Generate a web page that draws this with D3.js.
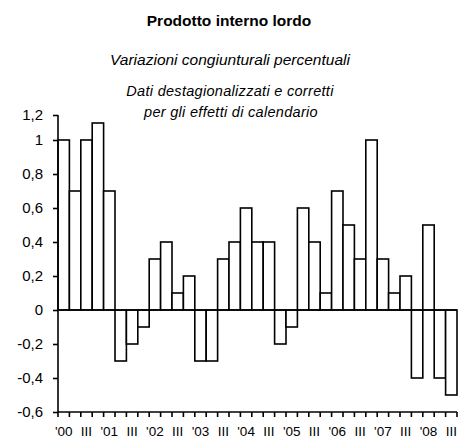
<html>
<script src="https://d3js.org/d3.v7.min.js"></script>
<style>
body {margin:0; background:white;}
text {font-family: "Liberation Sans", Arial, sans-serif; fill:black;}
</style>
<body>
<svg width=459 height=441></svg>
<script>
// quarterly GDP change, 2000 Q1 - 2008 Q3
var quarters = ["'00","II","III","IV","'01","II","III","IV","'02","II","III","IV",
                "'03","II","III","IV","'04","II","III","IV","'05","II","III","IV",
                "'06","II","III","IV","'07","II","III","IV","'08","II","III"];
var values = [1.0,0.7,1.0,1.1, 0.7,-0.3,-0.2,-0.1, 0.3,0.4,0.1,0.2,
              -0.3,-0.3,0.3,0.4, 0.6,0.4,0.4,-0.2, -0.1,0.6,0.4,0.1,
              0.7,0.5,0.3,1.0, 0.3,0.1,0.2,-0.4, 0.5,-0.4,-0.5];
var yTicks = [-0.6,-0.4,-0.2,0,0.2,0.4,0.6,0.8,1];
var yTickLabels = ["-0,6","-0,4","-0,2","0","0,2","0,4","0,6","0,8","1"];
var topLabel = "1,2";

var svg = d3.select("svg");
var left = 58, right = 457, plotTop = 115, zeroY = 310, bottom = 412;
var sw = 1.6;

var x = d3.scaleBand().domain(d3.range(values.length)).range([left, right]).padding(0);
var y = d3.scaleLinear().domain([-0.6, 0]).range([bottom, zeroY]);
var yTop = y.invert(plotTop);

// titles
svg.append("text").attr("x",229).attr("y",26).attr("text-anchor","middle")
   .style("font-size","15.5px").style("font-weight","bold").text("Prodotto interno lordo");
svg.append("text").attr("x",230).attr("y",65).attr("text-anchor","middle")
   .style("font-size","15.5px").style("font-style","italic").text("Variazioni congiunturali percentuali");
svg.append("text").attr("x",230).attr("y",96).attr("text-anchor","middle")
   .style("font-size","14.5px").style("font-style","italic").style("letter-spacing","0.3px")
   .text("Dati destagionalizzati e corretti");
svg.append("text").attr("x",231).attr("y",117).attr("text-anchor","middle")
   .style("font-size","14.5px").style("font-style","italic").style("letter-spacing","0.3px")
   .text("per gli effetti di calendario");

var g = svg.append("g");

// bars
g.selectAll("rect").data(values).enter().append("rect")
  .attr("x", function(d,i){ return x(i); })
  .attr("width", x.bandwidth())
  .attr("y", function(d){ return y(Math.max(0,d)); })
  .attr("height", function(d){ return Math.abs(y(d)-y(0)); })
  .attr("fill","white").attr("stroke","black").attr("stroke-width",sw);

// zero line
g.append("line").attr("x1",left).attr("x2",right).attr("y1",y(0)).attr("y2",y(0))
  .attr("stroke","black").attr("stroke-width",sw);

// y axis
var yAxis = d3.axisLeft(y).tickValues(yTicks.concat([yTop])).tickSize(5).tickPadding(10)
  .tickFormat(function(d,i){ return i < yTickLabels.length ? yTickLabels[i] : topLabel; });
var ya = svg.append("g").attr("transform","translate("+left+",0)").call(yAxis);
ya.select(".domain").attr("d","M0,"+plotTop+"V"+bottom).attr("stroke-width",sw);
ya.selectAll(".tick line").attr("stroke-width",sw);
ya.selectAll("text").style("font-size","15px").style("font-family","Liberation Sans, Arial, sans-serif");

// x axis: ticks at category boundaries
var bounds = d3.range(values.length+1).map(function(i){ return left + i*x.bandwidth(); });
var xa = svg.append("g");
xa.append("line").attr("x1",left).attr("x2",right).attr("y1",bottom).attr("y2",bottom)
  .attr("stroke","black").attr("stroke-width",sw);
xa.selectAll(".xt").data(bounds).enter().append("line")
  .attr("x1",function(d){return d;}).attr("x2",function(d){return d;})
  .attr("y1",bottom).attr("y2",bottom+5).attr("stroke","black").attr("stroke-width",sw);
quarters.forEach(function(q,i){
  if (q === "II" || q === "IV") return;
  xa.append("text").attr("x", x(i) + x.bandwidth()/2).attr("y", 436)
    .attr("text-anchor","middle").style("font-size","13.5px").text(q);
});
</script>
</body>
</html>
